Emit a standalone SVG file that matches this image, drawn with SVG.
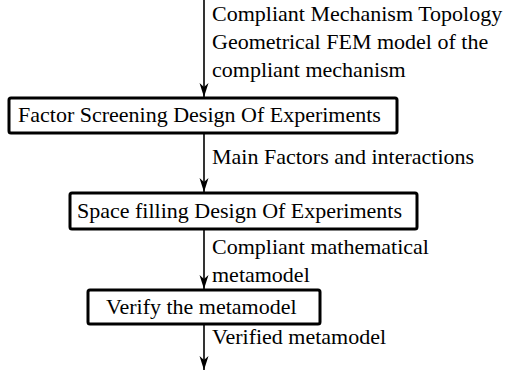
<svg xmlns="http://www.w3.org/2000/svg" width="511" height="375" viewBox="0 0 511 375">
<style>
text{font-family:"Liberation Serif","Times New Roman",serif;font-size:22px;fill:#000}
.box{fill:#fff;stroke:#000;stroke-width:3}
.conn{stroke:#000;stroke-width:1.6;fill:none}
</style>
<defs>
<marker id="arr" markerUnits="userSpaceOnUse" markerWidth="16" markerHeight="12" viewBox="-14 -6 16 12" refX="0" refY="0" orient="auto">
<path d="M-14,-4.5 L0,0 L-14,4.5 L-10,0 Z" fill="#000"/>
</marker>
</defs>
<rect width="511" height="375" fill="#fff"/>
<g id="connectors">
<line class="conn" x1="204" y1="0" x2="204" y2="97" marker-end="url(#arr)"/>
<line class="conn" x1="204" y1="133" x2="204" y2="192" marker-end="url(#arr)"/>
<line class="conn" x1="204" y1="229" x2="204" y2="289" marker-end="url(#arr)"/>
<line class="conn" x1="204" y1="324" x2="204" y2="370" marker-end="url(#arr)"/>
<text x="212" y="21">Compliant Mechanism Topology</text>
<text x="212" y="49">Geometrical FEM model of the</text>
<text x="212" y="77">compliant mechanism</text>
<text x="212" y="164">Main Factors and interactions</text>
<text x="212" y="254">Compliant mathematical</text>
<text x="212" y="282">metamodel</text>
<text x="212" y="344">Verified metamodel</text>
</g>
<g id="factor-screening">
<rect class="box" x="9" y="98" width="388" height="35" rx="2"/>
<text x="18" y="122">Factor Screening Design Of Experiments</text>
</g>
<g id="space-filling">
<rect class="box" x="70" y="193" width="347" height="36" rx="2"/>
<text x="77" y="218">Space filling Design Of Experiments</text>
</g>
<g id="verify">
<rect class="box" x="88" y="290" width="232" height="34" rx="2"/>
<text x="106" y="314">Verify the metamodel</text>
</g>
</svg>
